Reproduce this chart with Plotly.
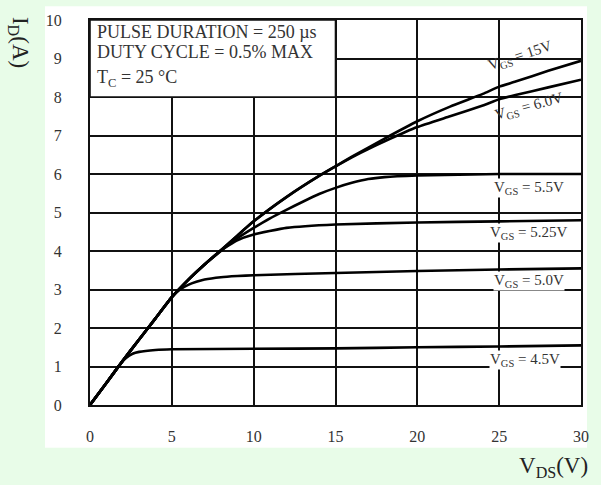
import plotly.graph_objects as go

# ---- data ----
x_15 = [0, 1, 2, 3, 4, 5, 6, 7, 8, 9, 10, 12, 14, 15, 16, 18, 20, 22, 24, 25, 26, 28, 30]
y_15 = [0, 0.57, 1.15, 1.7, 2.25, 2.8, 3.25, 3.65, 4.02, 4.4, 4.77, 5.4, 5.95, 6.2, 6.45, 6.92, 7.37, 7.75, 8.08, 8.27, 8.4, 8.68, 8.94]

x_60 = [0, 1, 2, 3, 4, 5, 6, 7, 8, 9, 10, 12, 14, 15, 16, 17, 18, 20, 22, 24, 25, 26, 28, 30]
y_60 = [0, 0.57, 1.15, 1.7, 2.25, 2.8, 3.25, 3.65, 4.02, 4.4, 4.77, 5.4, 5.95, 6.2, 6.43, 6.65, 6.85, 7.22, 7.5, 7.78, 7.94, 8.05, 8.25, 8.45]

x_55 = [0, 1, 2, 3, 4, 5, 6, 7, 8, 9, 10, 11, 12, 13, 14, 15, 16, 17, 18, 20, 25, 30]
y_55 = [0, 0.57, 1.15, 1.7, 2.25, 2.8, 3.25, 3.65, 4.0, 4.33, 4.6, 4.85, 5.07, 5.28, 5.48, 5.64, 5.77, 5.87, 5.92, 5.96, 6.0, 6.0]

x_525 = [0, 1, 2, 3, 4, 5, 6, 7, 8, 9, 10, 12, 15, 20, 25, 30]
y_525 = [0, 0.57, 1.15, 1.7, 2.25, 2.8, 3.25, 3.65, 4.02, 4.28, 4.43, 4.6, 4.69, 4.74, 4.77, 4.8]

x_50 = [0, 1, 2, 3, 4, 5, 5.5, 6, 6.5, 7, 8, 9, 10, 15, 20, 25, 30]
y_50 = [0, 0.57, 1.15, 1.7, 2.25, 2.8, 3.0, 3.12, 3.2, 3.26, 3.32, 3.35, 3.37, 3.43, 3.48, 3.52, 3.55]

x_45 = [0, 1, 1.8, 2.2, 2.6, 3, 4, 5, 10, 15, 20, 25, 30]
y_45 = [0, 0.57, 1.03, 1.22, 1.33, 1.38, 1.43, 1.45, 1.46, 1.47, 1.5, 1.52, 1.55]

series = [
    ("V<sub>GS</sub> = 15V", x_15, y_15),
    ("V<sub>GS</sub> = 6.0V", x_60, y_60),
    ("V<sub>GS</sub> = 5.5V", x_55, y_55),
    ("V<sub>GS</sub> = 5.25V", x_525, y_525),
    ("V<sub>GS</sub> = 5.0V", x_50, y_50),
    ("V<sub>GS</sub> = 4.5V", x_45, y_45),
]

label_pos = [(26.3, 9.07, -18), (26.8, 7.74, -15), (26.8, 5.64, 0),
             (26.8, 4.46, 0), (26.8, 3.22, 0), (26.6, 1.16, 0)]

x_ticks = [0, 5, 10, 15, 20, 25, 30]
y_ticks = [0, 1, 2, 3, 4, 5, 6, 7, 8, 9, 10]

notes = ["PULSE DURATION = 250 µs", "DUTY CYCLE = 0.5% MAX", "T<sub>C</sub> = 25 °C"]

SERIF = "Liberation Serif, Times New Roman, serif"
GREEN = "#e8fce8"

fig = go.Figure()
for name, xs, ys in series:
    fig.add_trace(go.Scatter(x=xs, y=ys, mode="lines", name=name,
                             line=dict(color="black", width=2.6, shape="spline", smoothing=0.4),
                             showlegend=False, hoverinfo="skip"))

annotations = []
for (name, _, _), (lx, ly, ang) in zip(series, label_pos):
    annotations.append(dict(x=lx, y=ly, xref="x", yref="y", text=name, showarrow=False,
                            textangle=ang, bgcolor="white" if ang == 0 else "rgba(0,0,0,0)",
                            font=dict(family=SERIF, size=15, color="#333"), borderpad=0))

note_y = [9.68, 9.16, 8.48]
for t, ny in zip(notes, note_y):
    annotations.append(dict(x=0.3, y=ny, xref="x", yref="y", text=t, showarrow=False,
                            xanchor="left", yanchor="middle",
                            font=dict(family=SERIF, size=18, color="#333")))

annotations.append(dict(x=-0.1446, y=0.943, xref="paper", yref="paper", text="I<sub>D</sub>(A)",
                        showarrow=False, textangle=90, xanchor="center", yanchor="middle",
                        font=dict(family=SERIF, size=23, color="#222")))
annotations.append(dict(x=0.943, y=-0.160, xref="paper", yref="paper", text="V<sub>DS</sub>(V)",
                        showarrow=False, xanchor="center", yanchor="middle",
                        font=dict(family=SERIF, size=23, color="#222")))

shapes = [
    dict(type="rect", xref="paper", yref="paper", x0=-0.0916, x1=1.0122, y0=-0.1108, y1=1.036,
         fillcolor="white", line=dict(width=0), layer="below"),
    dict(type="rect", xref="x", yref="y", x0=0, x1=15, y0=8, y1=10,
         fillcolor="white", line=dict(color="#111", width=1.6), layer="above"),
]

fig.update_layout(
    width=601, height=485,
    margin=dict(l=90, r=20, t=17, b=80),
    paper_bgcolor=GREEN, plot_bgcolor="white",
    annotations=annotations, shapes=shapes,
    showlegend=False,
)
axis_common = dict(showgrid=True, gridcolor="#111", gridwidth=1.5, zeroline=False,
                   showline=True, linecolor="#111", linewidth=2, mirror=True,
                   ticks="", tickfont=dict(family=SERIF, size=16, color="#333"))
fig.update_xaxes(range=[0, 30], tickvals=x_ticks, ticklabelstandoff=16, **axis_common)
fig.update_yaxes(range=[0, 10], tickvals=y_ticks, ticklabelstandoff=23, **axis_common)

fig.write_html(
    "out.html",
    config={"displayModeBar": False},
    post_script="document.body.style.margin='0';document.body.style.background='" + GREEN + "';"
                "document.body.style.overflow='hidden';",
)
